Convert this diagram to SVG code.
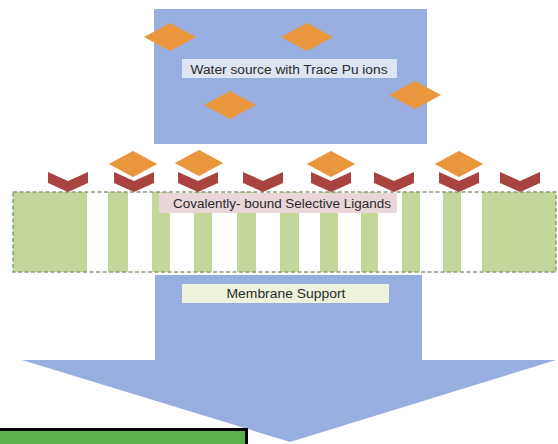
<svg xmlns="http://www.w3.org/2000/svg" width="558" height="444" viewBox="0 0 558 444">
<style>
.blue{fill:#99aee0}
.ion{fill:#e9963c}
.ion2{fill:#e9963c;stroke:#ffffff;stroke-width:1.5}
.lig{fill:#a8433f}
.stripe{fill:#c4d79b}
.lbl{font-family:"Liberation Sans",Arial,sans-serif;font-size:12px;fill:#2a2a2a;text-anchor:middle}
</style>
<defs>
<polygon id="dia" points="-26,0 0,-14 26,0 0,14"/>
<polygon id="chev" points="-20,172 0,181 20,172 20,183 0,192 -20,183"/>
</defs>
<rect width="558" height="444" fill="#ffffff"/>
<g id="water-source">
<rect class="blue" x="154" y="9" width="273" height="135"/>
<use href="#dia" class="ion" x="170" y="37"/>
<use href="#dia" class="ion" x="307" y="37"/>
<use href="#dia" class="ion" x="230" y="105"/>
<use href="#dia" class="ion" x="415" y="95"/>
<rect x="182" y="59" width="215" height="19" fill="#dde4f4"/>
<text class="lbl" x="289" y="74" textLength="197" lengthAdjust="spacingAndGlyphs">Water source with Trace Pu ions</text>
</g>
<g id="membrane-support">
<polygon class="blue" points="155,275 422,275 422,360 556,360 290,442 22,360 155,360"/>
<rect x="182" y="284" width="207" height="19" fill="#edf2dc"/>
<text class="lbl" x="286" y="298" textLength="119" lengthAdjust="spacingAndGlyphs">Membrane Support</text>
</g>
<g id="membrane">
<rect x="13" y="192" width="543" height="80" fill="#ffffff"/>
<rect class="stripe" x="13" y="192" width="74" height="80"/>
<rect class="stripe" x="108" y="192" width="20" height="80"/>
<rect class="stripe" x="152" y="192" width="18" height="80"/>
<rect class="stripe" x="194" y="192" width="18" height="80"/>
<rect class="stripe" x="237" y="192" width="19" height="80"/>
<rect class="stripe" x="280" y="192" width="19" height="80"/>
<rect class="stripe" x="320" y="192" width="18" height="80"/>
<rect class="stripe" x="361" y="192" width="17" height="80"/>
<rect class="stripe" x="402" y="192" width="18" height="80"/>
<rect class="stripe" x="443" y="192" width="18" height="80"/>
<rect class="stripe" x="482" y="192" width="74" height="80"/>
<rect x="13" y="192" width="543" height="80" fill="none" stroke="#8f9c7a" stroke-width="1.5" stroke-dasharray="4,2.5"/>
<rect x="159" y="193" width="238" height="20" fill="#e8d6d9"/>
<text class="lbl" x="282" y="208" textLength="218" lengthAdjust="spacingAndGlyphs">Covalently- bound Selective Ligands</text>
</g>
<g id="ligands">
<use href="#chev" class="lig" x="68"/>
<use href="#chev" class="lig" x="134"/>
<use href="#chev" class="lig" x="198"/>
<use href="#chev" class="lig" x="263"/>
<use href="#chev" class="lig" x="331"/>
<use href="#chev" class="lig" x="394"/>
<use href="#chev" class="lig" x="459"/>
<use href="#chev" class="lig" x="520"/>
</g>
<g id="bound-ions">
<use href="#dia" class="ion2" x="133" y="164"/>
<use href="#dia" class="ion2" x="199" y="163"/>
<use href="#dia" class="ion2" x="331" y="164"/>
<use href="#dia" class="ion2" x="459" y="164"/>
</g>
<g id="output-box">
<rect x="-5" y="429.5" width="251.5" height="20" fill="#5cb04a" stroke="#000000" stroke-width="3"/>
</g>
<g id="connectors"></g>
</svg>
